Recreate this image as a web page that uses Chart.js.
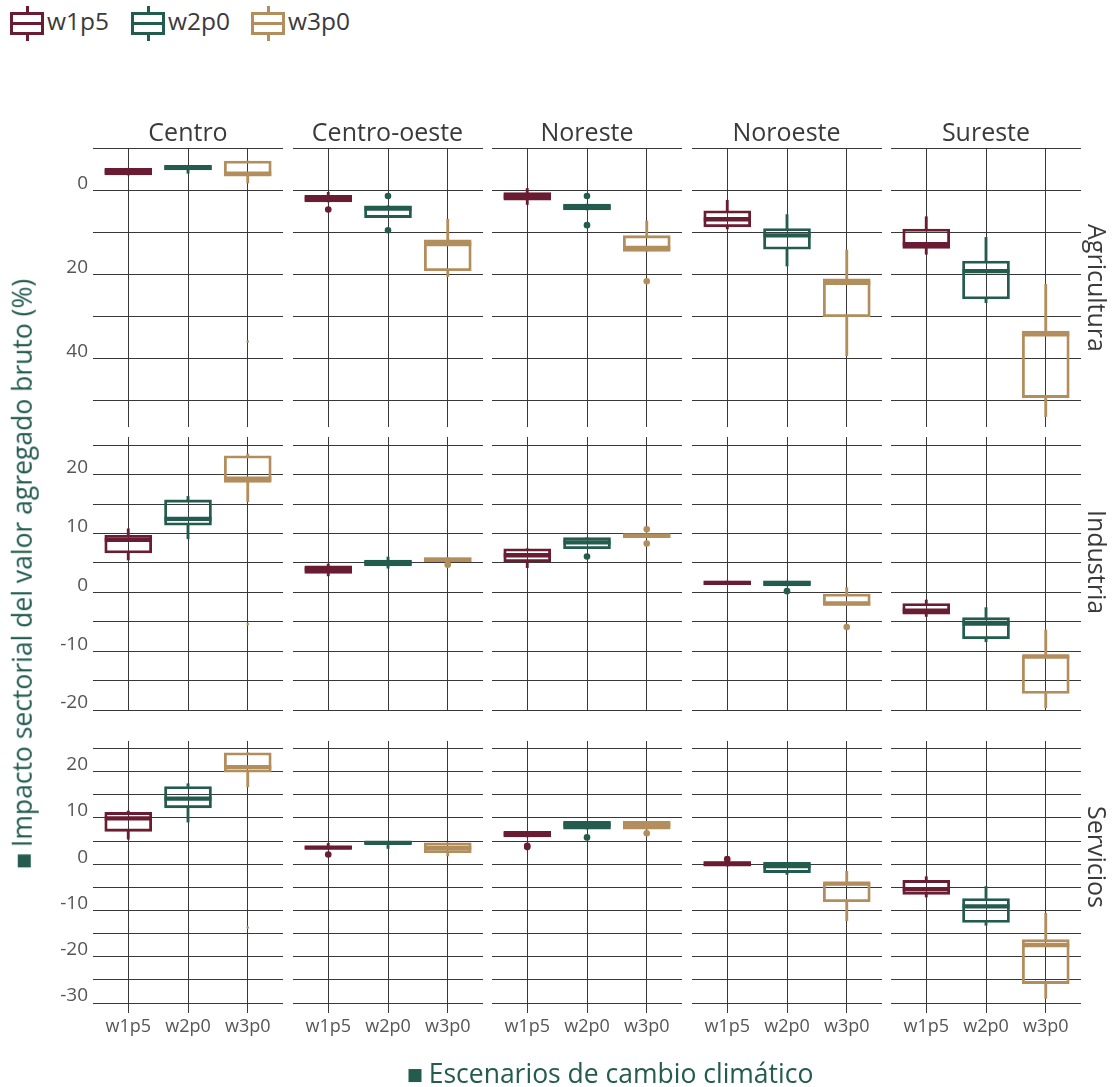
<!DOCTYPE html>
<html><head><meta charset="utf-8">
<script src="https://cdn.jsdelivr.net/npm/chart.js@4.4.0/dist/chart.umd.min.js"></script>
<style>
html,body{margin:0;padding:0;background:#fff;}
body{width:1115px;height:1087px;position:relative;overflow:hidden;font-family:"Open Sans",sans-serif;}
canvas{position:absolute;}
.strip{position:absolute;font-size:25px;color:#3a3a3a;white-space:nowrap;line-height:1;}
.title{position:absolute;font-size:26.5px;color:#235B4E;white-space:nowrap;line-height:1;}
.mk{font-family:"DejaVu Sans",sans-serif;font-size:17px;position:relative;top:-3px;margin-right:6px;}
.leg{position:absolute;top:6px;height:36px;}
.glyph{position:absolute;width:34px;height:35px;}
.glyph .b{position:absolute;left:0;top:6px;width:28px;height:17px;border:3px solid;}
.glyph .m{position:absolute;left:3px;top:16px;width:28px;height:3px;}
.glyph .w1{position:absolute;left:16px;top:0;width:3px;height:6px;}
.glyph .w2{position:absolute;left:16px;top:29px;width:3px;height:6px;}
.legtxt{position:absolute;left:37px;top:3px;font-size:24.5px;color:#3a3a3a;line-height:1;}
</style></head><body>
<script>
// ---------------- DATA ----------------
const regions = ['Centro','Centro-oeste','Noreste','Noroeste','Sureste'];
const sectors = ['Agricultura','Industria','Servicios'];
const scenarios = ['w1p5','w2p0','w3p0'];
const colors = ['#691C32','#235B4E','#B38E5D'];

// Agricultura (rows: regions, cols: scenarios)
const agriLow  = [[-5.2,-5.9,-6.9],[0.5,3.7,6.9],[-0.4,3.3,7.3],[2.4,5.8,14.2],[6.3,11.2,22.3]];
const agriQ1   = [[-5.2,-5.9,-6.9],[1.2,3.7,11.8],[0.6,3.3,10.8],[4.9,9.1,21.0],[9.2,16.8,33.4]];
const agriMed  = [[-4.4,-5.3,-3.9],[2.0,4.4,12.8],[1.5,4.0,13.7],[6.9,10.7,22.0],[12.8,19.2,34.2]];
const agriQ3   = [[-3.6,-4.8,-3.3],[2.8,6.5,19.1],[2.4,4.7,14.5],[8.7,14.0,30.0],[13.8,25.8,49.2]];
const agriHigh = [[-3.6,-4.0,-1.7],[2.8,6.5,20.5],[3.4,4.7,14.5],[9.2,18.0,39.3],[15.2,26.7,53.7]];
const agriOut  = [[[],[],[]],[[4.6],[1.4,9.5],[]],[[],[1.4,8.3],[21.6]],[[],[],[]],[[],[],[]]];
const agriFaint= [[[],[],[35.9]],[[],[],[]],[[],[],[]],[[],[],[]],[[],[],[]]];
const agriGrid = [-10,0,10,20,30,40,50];
const agriTicks = [0,20,40];

// Industria
const indLow  = [[5.5,9.1,15.4],[2.8,4.1,5.2],[4.2,7.4,9.3],[1.3,1.1,-2.2],[-4.1,-8.4,-19.6]];
const indQ1   = [[6.7,11.4,18.7],[3.2,4.5,5.2],[5.2,7.4,9.3],[1.3,1.1,-2.2],[-3.7,-7.9,-17.2]];
const indMed  = [[8.9,12.5,19.3],[3.9,5.0,5.5],[6.3,8.5,9.6],[1.6,1.6,-1.9],[-3.1,-5.3,-10.9]];
const indQ3   = [[9.7,15.7,23.2],[4.5,5.5,5.9],[7.4,9.3,10.0],[1.9,1.9,-0.3],[-1.9,-4.3,-10.8]];
const indHigh = [[10.8,16.3,23.5],[4.8,6.0,5.9],[7.4,9.3,10.0],[1.9,1.9,0.8],[-1.3,-2.6,-6.4]];
const indOut  = [[[],[],[]],[[],[],[4.7]],[[],[6.1],[10.7,8.3]],[[],[0.2],[-5.9]],[[],[],[]]];
const indFaint= [[[],[],[-5.4]],[[],[],[]],[[],[],[]],[[],[],[]],[[],[],[]]];
const indGrid = [-20,-15,-10,-5,0,5,10,15,20,25];
const indTicks = [-20,-10,0,10,20];

// Servicios
const servLow  = [[5.4,9.1,16.7],[3.3,3.4,1.8],[5.9,7.6,7.6],[-0.4,-2.2,-12.2],[-7.1,-13.2,-29.0]];
const servQ1   = [[7.1,12.2,19.9],[3.3,4.3,2.5],[5.9,7.6,7.6],[-0.4,-1.8,-8.1],[-6.5,-12.6,-25.8]];
const servMed  = [[9.9,14.2,21.0],[3.6,4.6,3.5],[6.5,8.5,8.5],[0.1,-0.4,-4.2],[-5.4,-9.1,-17.5]];
const servQ3   = [[11.2,16.8,24.1],[3.9,4.9,4.6],[7.1,9.3,9.3],[0.6,0.4,-4.0],[-3.5,-7.4,-16.3]];
const servHigh = [[11.5,17.4,24.1],[4.5,4.9,4.6],[7.1,9.3,9.3],[0.6,0.4,-1.5],[-2.7,-4.8,-10.6]];
const servOut  = [[[],[],[]],[[2.1],[],[]],[[3.7,4.0],[5.8],[6.7]],[[1.1],[],[]],[[],[],[]]];
const servFaint= [[[],[],[-13.7]],[[],[],[]],[[],[],[]],[[],[],[]],[[],[],[]]];
const servGrid = [-30,-25,-20,-15,-10,-5,0,5,10,15,20,25];
const servTicks = [-30,-20,-10,0,10,20];

// ---------------- LAYOUT ----------------
const sectorData = [
  {low:agriLow,q1:agriQ1,med:agriMed,q3:agriQ3,high:agriHigh,out:agriOut,faint:agriFaint,grid:agriGrid,ticks:agriTicks,min:-10,max:56.17,reverse:true},
  {low:indLow,q1:indQ1,med:indMed,q3:indQ3,high:indHigh,out:indOut,faint:indFaint,grid:indGrid,ticks:indTicks,min:-20,max:26.4,reverse:false},
  {low:servLow,q1:servQ1,med:servMed,q3:servQ3,high:servHigh,out:servOut,faint:servFaint,grid:servGrid,ticks:servTicks,min:-32.16,max:26.64,reverse:false}
];
const colLeft = c => 93 + 199.5*c;
const PW = 190;
const rowTop = [148,437,741];
const rowBot = [427,710,1013];
const M = 20, YW = 53, XH = 32;
const GRID = '#383838';

function makePanel(r,c){
  const s = sectorData[r];
  const cv = document.createElement('canvas');
  const left = colLeft(c) - M - (c===0?YW:0);
  const w = PW + 2*M + (c===0?YW:0);
  const top = rowTop[r] - M;
  const h = rowBot[r]-rowTop[r] + 2*M + (r===2?XH:0);
  cv.width = w; cv.height = h;
  cv.style.left = left+'px'; cv.style.top = top+'px';
  cv.style.width = w+'px'; cv.style.height = h+'px';
  document.body.appendChild(cv);
  const idx = [0,1,2];
  const outPts=[], outCols=[], faintPts=[], faintCols=[];
  idx.forEach(k=>{
    s.out[c][k].forEach(v=>{outPts.push({x:k,y:v}); outCols.push(colors[k]);});
    s.faint[c][k].forEach(v=>{faintPts.push({x:k,y:v}); faintCols.push(colors[k]);});
  });
  new Chart(cv,{
    type:'bar',
    data:{datasets:[
      {type:'scatter',data:outPts,pointRadius:3.3,pointBorderWidth:0,pointBackgroundColor:outCols,order:0},
      {type:'scatter',data:faintPts,pointRadius:1.3,pointBorderWidth:0,pointBackgroundColor:faintCols,order:1},
      {type:'scatter',data:idx.map(k=>({x:k,y:s.med[c][k]})),pointStyle:'line',pointRadius:23.5,pointBorderWidth:4.3,pointBorderColor:colors,pointBackgroundColor:colors,order:2},
      {type:'bar',data:idx.map(k=>({x:k,y:[s.q1[c][k],s.q3[c][k]]})),grouped:false,barThickness:47,borderWidth:2.2,borderSkipped:false,borderColor:colors,backgroundColor:'rgba(0,0,0,0)',order:3},
      {type:'bar',data:idx.map(k=>({x:k,y:[s.low[c][k],s.q1[c][k]]})),grouped:false,barThickness:2.2,borderWidth:0,backgroundColor:colors,order:4},
      {type:'bar',data:idx.map(k=>({x:k,y:[s.q3[c][k],s.high[c][k]]})),grouped:false,barThickness:2.2,borderWidth:0,backgroundColor:colors,order:5}
    ]},
    options:{
      responsive:false,animation:false,events:[],
      layout:{autoPadding:false,padding:{left:M,right:M,top:M,bottom:M}},
      plugins:{legend:{display:false},tooltip:{enabled:false}},
      scales:{
        x:{type:'linear',min:-0.59,max:2.59,offset:false,
          afterBuildTicks:sc=>{sc.ticks=scenarios.map((n,k)=>({value:k}));},
          afterFit:sc=>{sc.height = (r===2?XH:0);},
          grid:{color:GRID,lineWidth:1,drawTicks:false,offset:false},
          border:{display:false},
          ticks:{display:r===2,autoSkip:false,maxRotation:0,padding:3,color:'#555',font:{family:'"Open Sans"',size:18},
                 callback:v=>scenarios[v]}
        },
        y:{type:'linear',min:s.min,max:s.max,reverse:s.reverse,
          afterBuildTicks:sc=>{sc.ticks=s.grid.map(v=>({value:v}));},
          afterFit:sc=>{sc.width = (c===0?YW:0);},
          grid:{color:GRID,lineWidth:1,drawTicks:false},
          border:{display:false},
          ticks:{display:c===0,autoSkip:false,padding:5,labelOffset:-7,color:'#555',font:{family:'"Open Sans"',size:19},
                 callback:v=> s.ticks.includes(v) ? String(v) : ''}
        }
      }
    }
  });
}
for(let r=0;r<3;r++) for(let c=0;c<5;c++) makePanel(r,c);

// strips
regions.forEach((n,c)=>{
  const d=document.createElement('div'); d.className='strip'; d.textContent=n;
  d.style.left=(colLeft(c)+PW/2)+'px'; d.style.top='131px';
  d.style.transform='translate(-50%,-50%)';
  document.body.appendChild(d);
});
const stripY=[288,562,857];
sectors.forEach((n,r)=>{
  const d=document.createElement('div'); d.className='strip'; d.textContent=n;
  d.style.left='1097px'; d.style.top=stripY[r]+'px';
  d.style.transform='translate(-50%,-50%) rotate(90deg)';
  document.body.appendChild(d);
});
// axis titles
const xt=document.createElement('div'); xt.className='title';
xt.innerHTML='<span class="mk">■</span>Escenarios de cambio climático';
xt.style.left='610px'; xt.style.top='1073px'; xt.style.transform='translate(-50%,-50%)';
document.body.appendChild(xt);
const yt=document.createElement('div'); yt.className='title';
yt.innerHTML='<span class="mk">■</span>Impacto sectorial del valor agregado bruto (%)';
yt.style.left='22px'; yt.style.top='574px'; yt.style.transform='translate(-50%,-50%) rotate(-90deg)';
document.body.appendChild(yt);
// legend
const legX=[10,131,251];
scenarios.forEach((n,k)=>{
  const g=document.createElement('div'); g.className='leg'; g.style.left=legX[k]+'px';
  g.innerHTML='<div class="glyph"><div class="w1"></div><div class="w2"></div><div class="b"></div><div class="m"></div></div><div class="legtxt"></div>';
  g.querySelector('.b').style.borderColor=colors[k];
  g.querySelector('.m').style.background=colors[k];
  g.querySelector('.w1').style.background=colors[k];
  g.querySelector('.w2').style.background=colors[k];
  g.querySelector('.legtxt').textContent=n;
  document.body.appendChild(g);
});
</script>
</body></html>
